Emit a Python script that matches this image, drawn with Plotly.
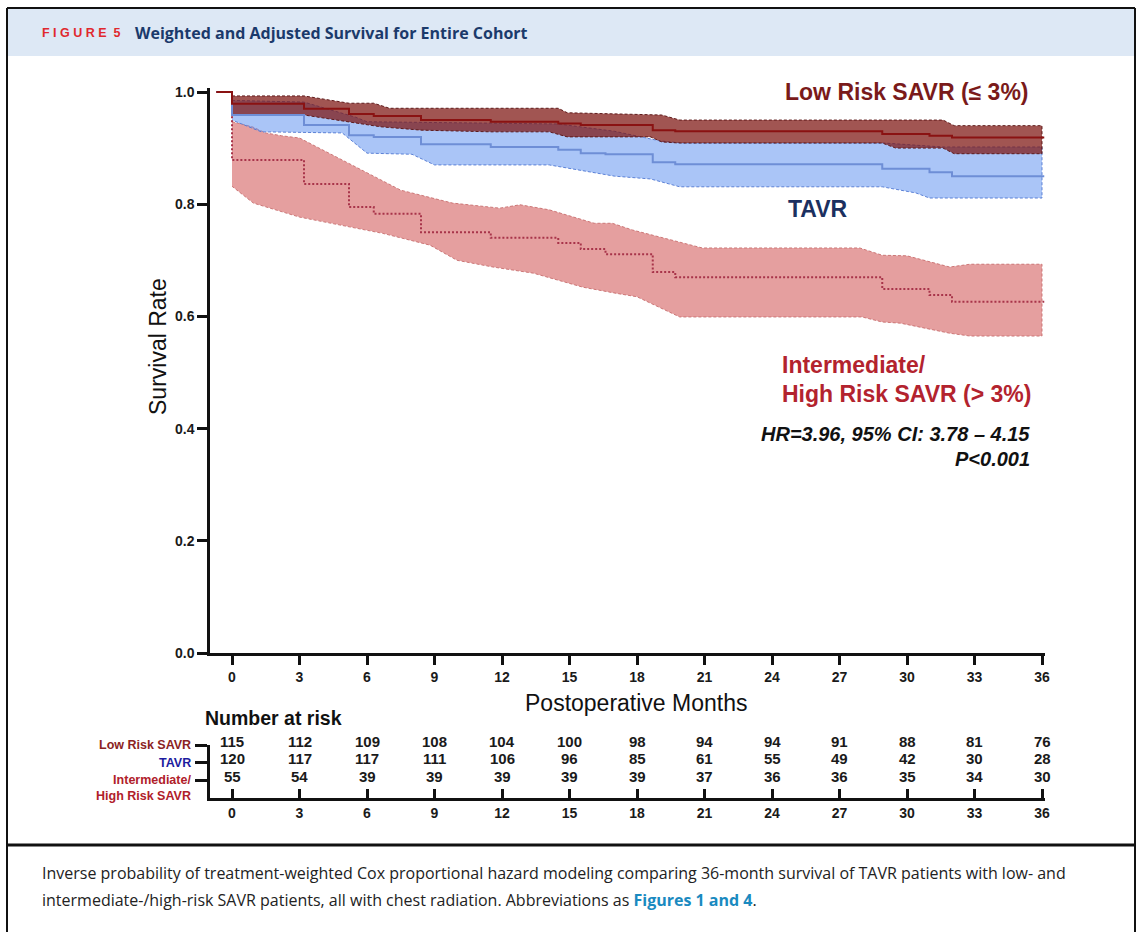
import plotly.graph_objects as go

# ---------------- data ----------------
months = [0, 3, 6, 9, 12, 15, 18, 21, 24, 27, 30, 33, 36]
risk_low = [115, 112, 109, 108, 104, 100, 98, 94, 94, 91, 88, 81, 76]
risk_tavr = [120, 117, 117, 111, 106, 96, 85, 61, 55, 49, 42, 30, 28]
risk_int = [55, 54, 39, 39, 39, 39, 39, 37, 36, 36, 35, 34, 30]
row_labels = ["Low Risk SAVR", "TAVR", "Intermediate/<br>High Risk SAVR"]

# survival step curves (time in months, survival after step)
low_t = [-0.7, 0, 3.2, 5.2, 6.3, 8.4, 11.5, 14.5, 15.5, 18.7, 19.7, 28.9, 31.0, 32.0, 36.1]
low_s = [1.0, 0.979, 0.970, 0.961, 0.957, 0.950, 0.947, 0.944, 0.941, 0.932, 0.930, 0.925, 0.922, 0.919, 0.919]

tavr_t = [-0.7, 0, 3.2, 5.2, 6.3, 8.4, 11.5, 14.5, 15.5, 16.6, 18.7, 19.7, 28.9, 31.0, 32.0, 36.1]
tavr_s = [1.0, 0.959, 0.941, 0.923, 0.920, 0.907, 0.902, 0.897, 0.891, 0.889, 0.875, 0.871, 0.863, 0.857, 0.850, 0.850]

int_t = [-0.7, 0, 3.2, 5.2, 6.3, 8.4, 11.5, 14.5, 15.5, 16.6, 18.7, 19.7, 28.9, 31.0, 32.0, 36.1]
int_s = [1.0, 0.879, 0.836, 0.795, 0.783, 0.750, 0.740, 0.731, 0.720, 0.711, 0.679, 0.670, 0.649, 0.638, 0.626, 0.626]

# confidence bands
low_up_t = [0, 3.2, 5.2, 6.3, 7.0, 14.5, 14.9, 19.1, 19.9, 31.6, 32.1, 36]
low_up = [0.993, 0.993, 0.980, 0.980, 0.971, 0.971, 0.963, 0.959, 0.950, 0.950, 0.940, 0.940]
low_lo_t = [0, 3.2, 6.6, 8.4, 11.5, 14.1, 14.9, 18.6, 19.1, 19.9, 28.9, 29.5, 31.6, 32.1, 36]
low_lo = [0.959, 0.959, 0.938, 0.932, 0.929, 0.929, 0.920, 0.920, 0.911, 0.909, 0.909, 0.900, 0.900, 0.890, 0.890]

tavr_up_t = [0, 3.2, 5.5, 6.0, 14.5, 17.0, 19.0, 20.0, 29.0, 31.6, 36]
tavr_up = [0.985, 0.982, 0.955, 0.947, 0.943, 0.930, 0.913, 0.909, 0.909, 0.902, 0.902]
tavr_lo_t = [0, 1.3, 4.9, 6.0, 8.0, 9.0, 14.1, 17.0, 18.6, 19.9, 28.9, 30.4, 31.0, 36]
tavr_lo = [0.950, 0.929, 0.927, 0.891, 0.889, 0.870, 0.870, 0.850, 0.845, 0.831, 0.831, 0.820, 0.811, 0.811]

int_up_t = [0, 0.9, 1.5, 2.2, 3.0, 7.5, 9.8, 11.9, 12.8, 14.1, 16.1, 16.9, 17.8, 20.9, 27.9, 28.9, 30.0, 31.9, 32.8, 36]
int_up = [0.947, 0.938, 0.927, 0.922, 0.918, 0.825, 0.802, 0.793, 0.799, 0.790, 0.766, 0.766, 0.754, 0.722, 0.722, 0.709, 0.708, 0.688, 0.693, 0.693]
int_lo_t = [0, 0.95, 3.0, 6.7, 8.8, 10.0, 11.6, 13.4, 15.6, 17.1, 18.0, 19.9, 28.0, 28.9, 29.7, 31.9, 32.8, 36]
int_lo = [0.832, 0.802, 0.777, 0.748, 0.727, 0.700, 0.688, 0.677, 0.652, 0.641, 0.635, 0.599, 0.599, 0.590, 0.588, 0.570, 0.565, 0.565]

y_ticks = [0.0, 0.2, 0.4, 0.6, 0.8, 1.0]

# ---------------- figure ----------------
W, H = 1142, 932
def PX(x): return x / W
def PY(y): return 1 - y / H

FONT = "Liberation Sans, Arial, sans-serif"
CAP_FONT = "Open Sans, Noto Sans, sans-serif"

fig = go.Figure()

def band(tu, u, tl, l, fill, edge):
    fig.add_trace(go.Scatter(
        x=tu + tl[::-1], y=u + l[::-1], fill="toself", fillcolor=fill,
        mode="lines", line=dict(color=edge, width=1, dash="3px,2px"),
        hoverinfo="skip", showlegend=False, xaxis="x", yaxis="y"))

band(int_up_t, int_up, int_lo_t, int_lo, "rgba(205,70,70,0.52)", "rgba(200,110,110,0.9)")
band(tavr_up_t, tavr_up, tavr_lo_t, tavr_lo, "rgba(100,150,240,0.55)", "rgba(80,120,210,0.9)")
band(low_up_t, low_up, low_lo_t, low_lo, "rgba(125,20,15,0.72)", "rgba(90,20,20,0.95)")

fig.add_trace(go.Scatter(x=int_t, y=int_s, mode="lines", line=dict(color="#A8344A", width=2, dash="2px,2px", shape="hv"),
                         showlegend=False, xaxis="x", yaxis="y"))
fig.add_trace(go.Scatter(x=tavr_t, y=tavr_s, mode="lines", line=dict(color="#6E8ED6", width=2, shape="hv"),
                         showlegend=False, xaxis="x", yaxis="y"))
fig.add_trace(go.Scatter(x=low_t, y=low_s, mode="lines", line=dict(color="#8A1212", width=2, shape="hv"),
                         showlegend=False, xaxis="x", yaxis="y"))

# invisible trace to activate the risk-table axes
fig.add_trace(go.Scatter(x=months, y=[0] * len(months), mode="markers", marker=dict(opacity=0),
                         hoverinfo="skip", showlegend=False, xaxis="x2", yaxis="y2"))

ann = []
# numbers at risk
for row, vals in zip([3, 2, 1], [risk_low, risk_tavr, risk_int]):
    for m, v in zip(months, vals):
        ann.append(dict(x=m, y=row, xref="x2", yref="y2", text=str(v), showarrow=False, yshift=4,
                        font=dict(family=FONT, size=15, color="#1a1a1a", weight=700)))

row_colors = ["#8B2323", "#1C1CA0", "#B0202A"]
for row, lab, col in zip([3, 2, 1], row_labels, row_colors):
    ann.append(dict(x=PX(193), y=row, xref="paper", yref="y2", text=lab, showarrow=False,
                    xanchor="right", yanchor="top" if "<br>" in lab else "middle",
                    yshift=9 if "<br>" in lab else 0, align="right",
                    font=dict(family=FONT, size=12.5, color=col, weight=700)))

ann += [
    dict(x=PX(203), y=PY(718), xref="paper", yref="paper", text="Number at risk", showarrow=False,
         xanchor="left", yanchor="middle", font=dict(family=FONT, size=19.5, color="#111", weight=700)),
    dict(x=PX(636), y=PY(703), xref="paper", yref="paper", text="Postoperative Months", showarrow=False,
         xanchor="center", yanchor="middle", font=dict(family=FONT, size=23, color="#111")),
    dict(x=PX(158), y=PY(347), xref="paper", yref="paper", text="Survival Rate", showarrow=False,
         textangle=-90, xanchor="center", yanchor="middle", font=dict(family=FONT, size=23, color="#111")),
    dict(x=PX(1031), y=PY(92), xref="paper", yref="paper", text="Low Risk SAVR (≤ 3%)", showarrow=False,
         xanchor="right", yanchor="middle", font=dict(family=FONT, size=23, color="#7A1A1A", weight=700)),
    dict(x=PX(818), y=PY(209), xref="paper", yref="paper", text="TAVR", showarrow=False,
         xanchor="center", yanchor="middle", font=dict(family=FONT, size=23, color="#1B3060", weight=700)),
    dict(x=PX(780), y=PY(365), xref="paper", yref="paper", text="Intermediate/", showarrow=False,
         xanchor="left", yanchor="middle", font=dict(family=FONT, size=23, color="#B3232E", weight=700)),
    dict(x=PX(780), y=PY(394), xref="paper", yref="paper", text="High Risk SAVR (> 3%)", showarrow=False,
         xanchor="left", yanchor="middle", font=dict(family=FONT, size=23, color="#B3232E", weight=700)),
    dict(x=PX(1032), y=PY(434), xref="paper", yref="paper", text="<i>HR=3.96, 95% CI: 3.78 – 4.15</i>",
         showarrow=False, xanchor="right", yanchor="middle",
         font=dict(family=FONT, size=20, color="#111", weight=700)),
    dict(x=PX(1032), y=PY(459), xref="paper", yref="paper", text="<i>P<0.001</i>",
         showarrow=False, xanchor="right", yanchor="middle",
         font=dict(family=FONT, size=20, color="#111", weight=700)),
    # header
    dict(x=PX(40), y=PY(33), xref="paper", yref="paper", text="F I G U R E  5", showarrow=False,
         xanchor="left", yanchor="middle", font=dict(family=FONT, size=12.5, color="#E0282E", weight=700)),
    dict(x=PX(133), y=PY(33), xref="paper", yref="paper",
         text="Weighted and Adjusted Survival for Entire Cohort", showarrow=False,
         xanchor="left", yanchor="middle", font=dict(family=CAP_FONT, size=16, color="#1B3A6B", weight=700)),
    # caption
    dict(x=PX(40), y=PY(873), xref="paper", yref="paper",
         text="Inverse probability of treatment-weighted Cox proportional hazard modeling comparing 36-month survival of TAVR patients with low- and",
         showarrow=False, xanchor="left", yanchor="middle",
         font=dict(family=CAP_FONT, size=16, color="#222")),
    dict(x=PX(40), y=PY(900), xref="paper", yref="paper",
         text="intermediate-/high-risk SAVR patients, all with chest radiation. Abbreviations as "
              "<b><span style='color:#1A8AC0'>Figures 1 and 4</span></b>.",
         showarrow=False, xanchor="left", yanchor="middle",
         font=dict(family=CAP_FONT, size=16, color="#222")),
]

shapes = [
    dict(type="rect", xref="paper", yref="paper", x0=PX(8), x1=PX(1135), y0=PY(56), y1=PY(9),
         fillcolor="#DDE8F5", line=dict(width=0), layer="below"),
    dict(type="line", xref="paper", yref="paper", x0=PX(7), x1=PX(7), y0=PY(8), y1=PY(932),
         line=dict(color="#111", width=2)),
    dict(type="line", xref="paper", yref="paper", x0=PX(1135), x1=PX(1135), y0=PY(8), y1=PY(932),
         line=dict(color="#111", width=2)),
    dict(type="line", xref="paper", yref="paper", x0=PX(7), x1=PX(1135), y0=PY(8), y1=PY(8),
         line=dict(color="#111", width=2)),
    dict(type="line", xref="paper", yref="paper", x0=PX(7), x1=PX(1135), y0=PY(845), y1=PY(845),
         line=dict(color="#111", width=3)),
]

xr = [(210 - 232) / 22.5, (1045 - 232) / 22.5]
tickfont = dict(family=FONT, size=14, color="#1a1a1a", weight=700)
common = dict(showgrid=False, zeroline=False, automargin=False, showline=True, linewidth=2.5,
              linecolor="#111", tickcolor="#111", tickwidth=2.5)

fig.update_layout(
    width=W, height=H, margin=dict(l=0, r=0, t=0, b=0, autoexpand=False),
    paper_bgcolor="white", plot_bgcolor="rgba(0,0,0,0)",
    showlegend=False, annotations=ann, shapes=shapes,
    xaxis=dict(domain=[PX(210), PX(1045)], range=xr, anchor="y", tickvals=months,
               ticks="outside", ticklen=9, tickfont=tickfont, **common),
    yaxis=dict(domain=[PY(653), PY(88)], range=[0, (653 - 88) / 561], anchor="x", tickvals=y_ticks,
               ticktext=[f"{v:.1f}" for v in y_ticks], ticks="outside", ticklen=10,
               tickfont=dict(family=FONT, size=14, color="#1a1a1a", weight=700), **common),
    xaxis2=dict(domain=[PX(210), PX(1045)], range=xr, anchor="y2", tickvals=months,
                ticks="inside", ticklen=9, tickfont=tickfont, **common),
    yaxis2=dict(domain=[PY(798), PY(745)], range=[0, 3], anchor="x2", tickvals=[1, 2, 3],
                ticks="outside", ticklen=12, showticklabels=False, **common),
)

fig.write_html("out.html", config={"displayModeBar": False},
               post_script="document.body.style.margin='0';document.body.style.overflow='hidden';")
